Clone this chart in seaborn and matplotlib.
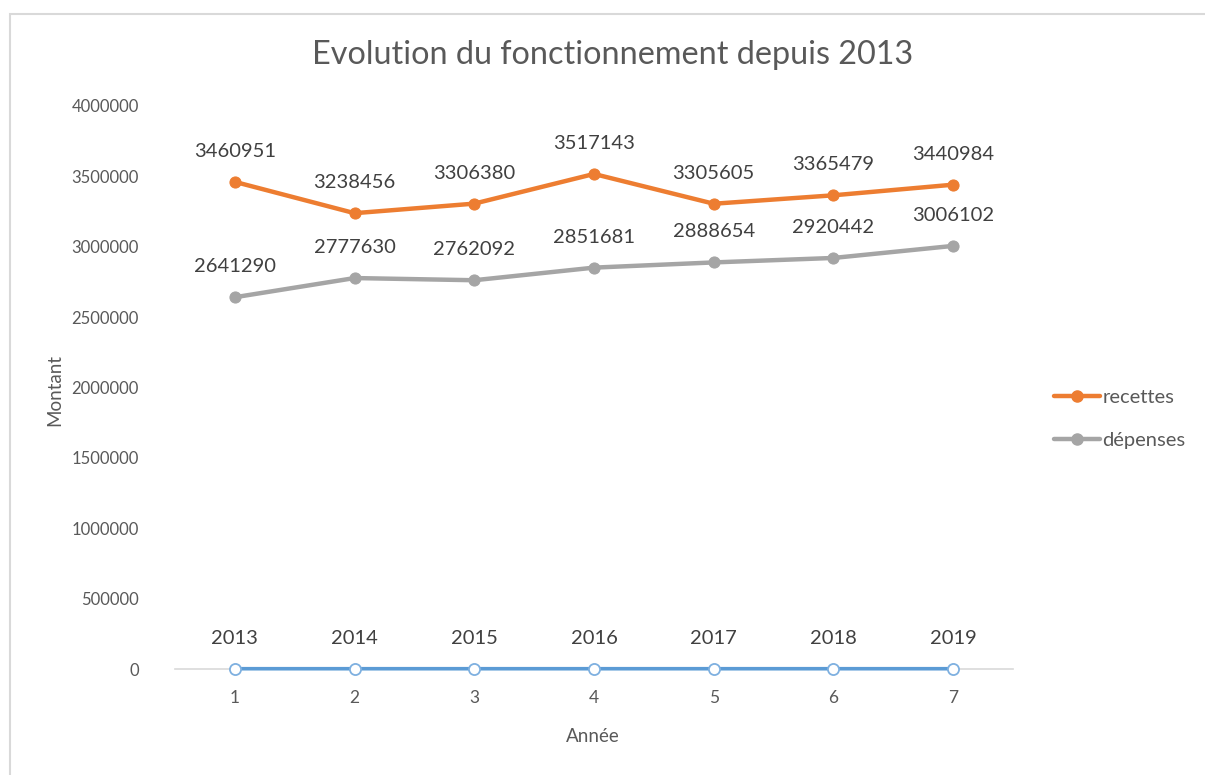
import pandas as pd
import seaborn as sns
import matplotlib.pyplot as plt
from matplotlib.patches import Rectangle
from matplotlib.lines import Line2D

rang = [1, 2, 3, 4, 5, 6, 7]
annees = [2013, 2014, 2015, 2016, 2017, 2018, 2019]
recettes = [3460951, 3238456, 3306380, 3517143, 3305605, 3365479, 3440984]
depenses = [2641290, 2777630, 2762092, 2851681, 2888654, 2920442, 3006102]
yticks = [0, 500000, 1000000, 1500000, 2000000, 2500000, 3000000, 3500000, 4000000]

df = pd.DataFrame({'rang': rang, 'annee': annees,
                   'recettes': recettes, 'dépenses': depenses})

sns.set_style('white')
plt.rcParams['font.family'] = ['Lato', 'DejaVu Sans']

ORANGE = '#ED7D31'
GRIS = '#A5A5A5'
BLEU = '#5B9BD5'
TXT = '#595959'

fig = plt.figure(figsize=(12.05, 7.75), dpi=100)
fig.patches.append(Rectangle((10 / 1205, -0.1), 1.2, 1.1 - 14 / 775,
                             transform=fig.transFigure, fill=False,
                             edgecolor='#D9D9D9', lw=1.5))
ax = fig.add_axes([175 / 1205, 1 - 669 / 775, 838 / 1205, 563 / 775])

sns.lineplot(data=df, x='rang', y='recettes', ax=ax, color=ORANGE, lw=3.2,
             marker='o', ms=8, mec=ORANGE, legend=False, clip_on=False)
sns.lineplot(data=df, x='rang', y='dépenses', ax=ax, color=GRIS, lw=3.2,
             marker='o', ms=8, mec=GRIS, legend=False, clip_on=False)
sns.lineplot(data=df, x='rang', y='annee', ax=ax, color=BLEU, lw=2.6,
             marker='o', ms=8, mfc='white', mec='#7EB0E0', mew=1.3,
             legend=False, clip_on=False, zorder=5)

for col in ['recettes', 'dépenses', 'annee']:
    for x, v in zip(df['rang'], df[col]):
        ax.annotate(str(v), (x, v), xytext=(0, 22), textcoords='offset points',
                    ha='center', va='center', fontsize=14.5, color='#404040')

ax.set_xlim(0.5, 7.5)
ax.set_ylim(0, 4000000)
ax.set_xticks(rang)
ax.set_xticklabels([str(r) for r in rang])
ax.set_yticks(yticks)
ax.set_yticklabels([str(t) for t in yticks])
ax.tick_params(axis='y', length=0, pad=26, labelsize=12, labelcolor=TXT)
ax.tick_params(axis='x', length=0, pad=15, labelsize=12.5, labelcolor=TXT)
for s in ['top', 'right', 'left']:
    ax.spines[s].set_visible(False)
ax.spines['bottom'].set_color('#D9D9D9')
ax.spines['bottom'].set_linewidth(1.2)
ax.set_xlabel('')
ax.set_ylabel('')

fig.text(613 / 1205, 1 - 55 / 775, 'Evolution du fonctionnement depuis 2013',
         ha='center', va='center', fontsize=23.3, color=TXT)
fig.text(55 / 1205, 1 - 390 / 775, 'Montant', rotation=90,
         ha='center', va='center', fontsize=13.5, color=TXT)
fig.text(593 / 1205, 1 - 737 / 775, 'Année',
         ha='center', va='center', fontsize=13.5, color=TXT)

handles = [Line2D([], [], color=ORANGE, lw=3.2, marker='o', ms=8),
           Line2D([], [], color=GRIS, lw=3.2, marker='o', ms=8)]
leg = fig.legend(handles, ['recettes', 'dépenses'], loc='center left',
                 bbox_to_anchor=(1036 / 1205, 1 - 419 / 775), frameon=False,
                 handlelength=2.3, handletextpad=0.1, labelspacing=1.25,
                 fontsize=14.5)
for t in leg.get_texts():
    t.set_color(TXT)

fig.savefig('out.png', dpi=100)
